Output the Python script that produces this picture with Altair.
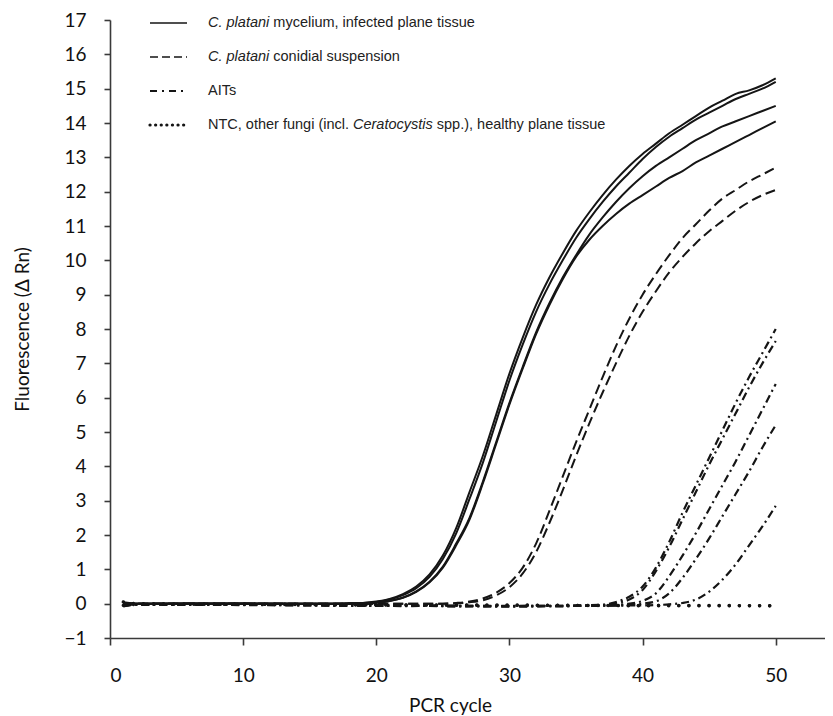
import altair as alt
import pandas as pd

# ---------------- data ----------------
# C. platani mycelium / infected plane tissue (solid)
cyc_myc = [1, 2, 6, 10, 14, 17] + list(range(18, 51))
myc_1 = [0.04, 0.0, 0.01, 0.0, 0.0, 0.0,
         0.01, 0.02, 0.06, 0.14, 0.28, 0.5, 0.85, 1.4, 2.2, 3.25, 4.3, 5.5, 6.7, 7.75, 8.7,
         9.5, 10.2, 10.85, 11.4, 11.9, 12.35, 12.75, 13.1, 13.4, 13.7, 13.95, 14.2, 14.45,
         14.65, 14.85, 14.95, 15.1, 15.3]
myc_2 = [-0.02, 0.0, 0.0, 0.01, 0.0, 0.0,
         0.01, 0.02, 0.05, 0.12, 0.25, 0.45, 0.78, 1.3, 2.05, 3.05, 4.1, 5.3, 6.5, 7.55, 8.5,
         9.3, 10.0, 10.65, 11.2, 11.7, 12.15, 12.55, 12.95, 13.3, 13.6, 13.85, 14.1, 14.3,
         14.5, 14.7, 14.85, 15.0, 15.2]
myc_3 = [0.0, 0.0, 0.0, 0.0, 0.0, 0.0,
         0.0, 0.01, 0.03, 0.08, 0.18, 0.36, 0.64, 1.08, 1.75, 2.5, 3.55, 4.7, 5.85, 6.9, 7.9,
         8.75, 9.5, 10.15, 10.75, 11.25, 11.7, 12.1, 12.45, 12.75, 13.0, 13.25, 13.5, 13.7,
         13.9, 14.05, 14.2, 14.35, 14.5]
myc_4 = [0.02, 0.0, 0.0, 0.0, 0.0, 0.0,
         0.0, 0.01, 0.03, 0.08, 0.17, 0.34, 0.62, 1.05, 1.7, 2.45, 3.5, 4.65, 5.8, 6.85, 7.85,
         8.7, 9.45, 10.1, 10.6, 11.0, 11.35, 11.65, 11.9, 12.15, 12.4, 12.6, 12.85, 13.05,
         13.25, 13.45, 13.65, 13.85, 14.05]

# C. platani conidial suspension (dashed)
cyc_con = [1, 2, 6, 10, 14, 18, 22, 25] + list(range(26, 51))
con_1 = [-0.06, 0.0, 0.0, 0.0, 0.0, 0.0, 0.0, 0.0,
         0.02, 0.06, 0.15, 0.32, 0.6, 1.05, 1.75, 2.7, 3.7, 4.7, 5.65, 6.6, 7.5, 8.3, 9.0,
         9.6, 10.15, 10.65, 11.05, 11.45, 11.8, 12.05, 12.3, 12.5, 12.7]
con_2 = [0.02, 0.0, 0.0, 0.0, 0.0, 0.0, 0.0, 0.0,
         0.01, 0.04, 0.1, 0.24, 0.48, 0.88, 1.5, 2.35, 3.3, 4.3, 5.25, 6.15, 7.0, 7.8, 8.5,
         9.1, 9.65, 10.1, 10.5, 10.85, 11.15, 11.45, 11.7, 11.9, 12.05]

# AITs (dash-dot)
cyc_ait = [1, 2, 6, 10, 14, 18, 22, 26, 30, 34, 37, 38] + list(range(39, 51))
ait_1 = [-0.08, -0.02, -0.02, -0.02, -0.03, -0.04, -0.05, -0.06, -0.07, -0.06, -0.03, 0.05,
         0.2, 0.5, 1.05, 1.8, 2.65, 3.45, 4.25, 5.05, 5.85, 6.6, 7.3, 8.0]
ait_2 = [-0.05, -0.03, -0.02, -0.03, -0.04, -0.05, -0.06, -0.07, -0.06, -0.07, -0.04, 0.02,
         0.12, 0.4, 0.95, 1.65, 2.45, 3.25, 4.05, 4.8, 5.55, 6.3, 7.0, 7.65]
ait_3 = [-0.06, -0.02, -0.03, -0.02, -0.04, -0.06, -0.05, -0.08, -0.07, -0.06, -0.05, -0.03,
         0.0, 0.08, 0.3, 0.8, 1.4, 2.05, 2.75, 3.45, 4.15, 4.9, 5.65, 6.4]
ait_4 = [-0.04, -0.02, -0.03, -0.03, -0.05, -0.05, -0.07, -0.06, -0.08, -0.07, -0.06, -0.05,
         -0.03, 0.0, 0.07, 0.3, 0.75, 1.3, 1.9, 2.55, 3.2, 3.85, 4.55, 5.2]
ait_5 = [-0.07, -0.03, -0.02, -0.04, -0.04, -0.06, -0.06, -0.07, -0.08, -0.07, -0.06, -0.06,
         -0.05, -0.05, -0.04, -0.02, 0.02, 0.12, 0.35, 0.7, 1.15, 1.7, 2.25, 2.85]

# NTC, other fungi, healthy plane tissue (dotted)
cyc_ntc = [1, 2, 10, 20, 30, 40, 50]
ntc_1 = [0.05, 0.0, -0.01, -0.03, -0.05, -0.05, -0.06]
ntc_2 = [-0.05, -0.02, -0.02, -0.04, -0.04, -0.06, -0.06]

x_ticks = [0, 10, 20, 30, 40, 50]
y_ticks = list(range(-1, 18))


def long(cycles, series):
    rows = []
    for name, vals in series.items():
        for c, v in zip(cycles, vals):
            rows.append({"cycle": c, "value": v, "curve": name})
    return pd.DataFrame(rows)


df_myc = long(cyc_myc, {"m1": myc_1, "m2": myc_2, "m3": myc_3, "m4": myc_4})
df_con = long(cyc_con, {"c1": con_1, "c2": con_2})
df_ait = long(cyc_ait, {"a1": ait_1, "a2": ait_2, "a3": ait_3, "a4": ait_4, "a5": ait_5})
df_ntc = long(cyc_ntc, {"n1": ntc_1, "n2": ntc_2})

INK = "#151515"

x_enc = alt.X(
    "cycle:Q",
    scale=alt.Scale(domain=[0, 53.7], nice=False, zero=False),
    axis=alt.Axis(
        values=x_ticks, tickSize=7, labelPadding=21, title="PCR cycle",
        titleX=340, titleY=67, titleBaseline="middle", titleAlign="center",
    ),
)
y_enc = alt.Y(
    "value:Q",
    scale=alt.Scale(domain=[-1, 17], nice=False, zero=False),
    axis=alt.Axis(
        values=y_ticks, tickSize=6, labelPadding=18, title="Fluorescence (Δ Rn)",
        titleX=-88, titleY=309, titleAngle=270, titleBaseline="middle", titleAlign="center",
    ),
)


def lines(df, **mark):
    return alt.Chart(df).mark_line(interpolate="monotone", color=INK, **mark).encode(
        x=x_enc, y=y_enc, detail="curve:N"
    )


ntc_layer = lines(df_ntc, strokeWidth=3.4, strokeDash=[0.1, 10], strokeCap="round")
ait_layer = lines(df_ait, strokeWidth=2.2, strokeDash=[8, 4, 2, 4])
con_layer = lines(df_con, strokeWidth=2.0, strokeDash=[10, 5])
myc_layer = lines(df_myc, strokeWidth=2.0)

# ---------------- legend (drawn by hand, mixed italic text) ----------------
one = pd.DataFrame({"k": [0]})
leg_rows = [3, 37, 71, 105]
lx1, lx2, tx = 40, 77, 98
FS = 14.5
LFONT = "Liberation Sans"
LCOL = "#222222"


def leg_rule(yv, **mark):
    return alt.Chart(one).mark_rule(color=INK, **mark).encode(
        x=alt.value(lx1), x2=alt.value(lx2), y=alt.value(yv)
    )


def leg_text(xv, yv, txt, italic=False):
    return alt.Chart(one).mark_text(
        text=txt, align="left", baseline="middle", font=LFONT, fontSize=FS,
        fontStyle="italic" if italic else "normal", color=LCOL,
    ).encode(x=alt.value(xv), y=alt.value(yv))


legend = [
    leg_rule(leg_rows[0], strokeWidth=1.6),
    leg_rule(leg_rows[1], strokeWidth=1.6, strokeDash=[8, 4]),
    leg_rule(leg_rows[2], strokeWidth=1.8, strokeDash=[7, 5, 2, 5]),
    leg_rule(leg_rows[3], strokeWidth=3.2, strokeDash=[0.1, 5.5], strokeCap="round"),
    leg_text(tx, leg_rows[0], "C. platani", True),
    leg_text(tx + 65.3, leg_rows[0], "mycelium, infected plane tissue"),
    leg_text(tx, leg_rows[1], "C. platani", True),
    leg_text(tx + 65.3, leg_rows[1], "conidial suspension"),
    leg_text(tx, leg_rows[2], "AITs"),
    leg_text(tx, leg_rows[3], "NTC, other fungi (incl."),
    leg_text(tx + 145.0, leg_rows[3], "Ceratocystis", True),
    leg_text(tx + 228.8, leg_rows[3], "spp.), healthy plane tissue"),
]

chart = alt.layer(ntc_layer, ait_layer, con_layer, myc_layer, *legend).properties(
    width=715, height=618,
    autosize=alt.AutoSizeParams(type="none"),
    padding={"left": 102, "top": 12, "right": 0, "bottom": 78},
).configure_view(stroke=None).configure_axis(
    grid=False, domainColor="#3a3a3a", domainWidth=1.6, tickColor="#3a3a3a", tickWidth=1.6,
    labelFont="Lato", labelFontSize=19, labelColor="#111111",
    titleFont="Lato", titleFontSize=19, titleFontWeight="normal", titleColor="#111111",
)

chart.save("out.html", embed_options={"renderer": "svg", "actions": False})
